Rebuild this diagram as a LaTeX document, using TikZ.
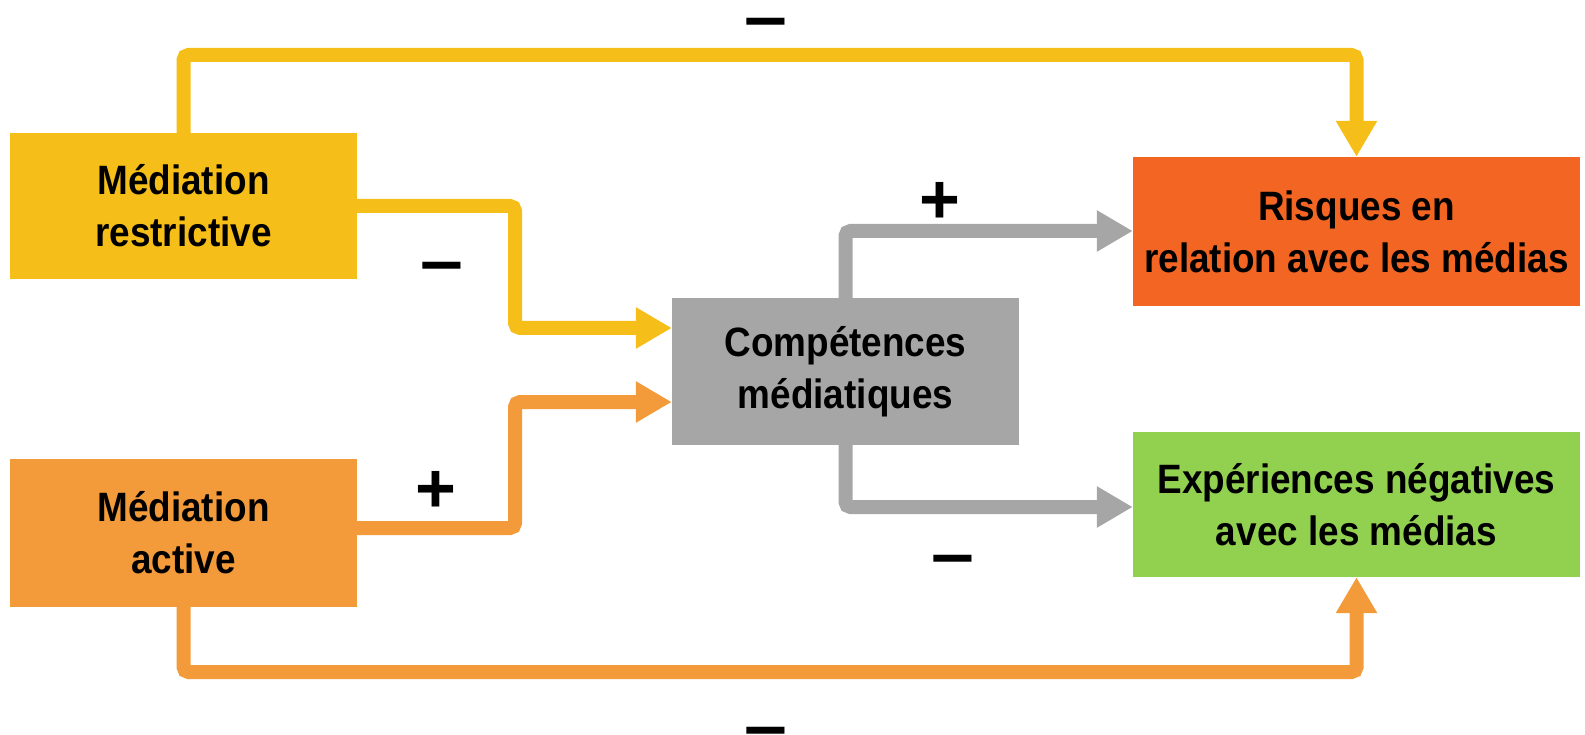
\documentclass[tikz,border=0pt]{standalone}
\usepackage{fontspec}
\setmainfont{Liberation Sans}[FakeStretch=0.9]
\newfontfamily\dashfont{Liberation Sans}[FakeStretch=1.1]
\newfontfamily\plusfont{Liberation Sans}
\usetikzlibrary{arrows.meta}
\definecolor{cyellow}{RGB}{246,190,24}
\definecolor{corange}{RGB}{243,155,59}
\definecolor{cgray}{RGB}{166,166,166}
\definecolor{cred}{RGB}{242,101,34}
\definecolor{cgreen}{RGB}{146,208,80}
\tikzset{
  box/.style={draw=none, inner sep=0pt, align=center, text=black,
    font=\fontsize{41}{52}\selectfont\bfseries},
  conn/.style={line width=14pt, rounded corners=5pt,
    -{Triangle[length=36pt,width=39pt]}},
  minus/.style={inner sep=0pt, text=black, font=\dashfont\fontsize{70}{70}\selectfont\bfseries},
  plus/.style={inner sep=0pt, text=black, font=\plusfont\fontsize{70}{70}\selectfont\bfseries},
}
\begin{document}
\begin{tikzpicture}[x=1pt,y=-1pt]
\useasboundingbox (0,0) rectangle (1585,735);
\node[box, fill=cyellow, minimum width=347pt, minimum height=146pt] (restr) at (183.5,206) {Médiation\\restrictive};
\node[box, fill=corange, minimum width=347pt, minimum height=148pt] (activ) at (183.5,533) {Médiation\\active};
\node[box, fill=cgray, minimum width=347pt, minimum height=147pt] (comp) at (845.5,371.5) {Compétences\\médiatiques};
\node[box, fill=cred, minimum width=447pt, minimum height=149pt] (risk) at (1356.5,231.5) {Risques en\\relation avec les médias};
\node[box, fill=cgreen, minimum width=447pt, minimum height=145pt] (exp) at (1356.5,504.5) {Expériences négatives\\avec les médias};
% bend points
\coordinate (ytop) at (0,55);
\coordinate (ybot) at (0,672);
\coordinate (r1) at (515,206);
\coordinate (r2) at (515,328);
\coordinate (a1) at (515,528);
\coordinate (a2) at (515,402);
\coordinate (g1) at (0,231);
\coordinate (g2) at (0,507);
\draw[conn, draw=cyellow] (restr.north) -- (restr.north |- ytop) -- (risk.north |- ytop) -- (risk.north);
\draw[conn, draw=corange] (activ.south) -- (activ.south |- ybot) -- (exp.south |- ybot) -- (exp.south);
\draw[conn, draw=cyellow] (restr.east |- r1) -- (r1) -- (r2) -- (comp.west |- r2);
\draw[conn, draw=corange] (activ.east |- a1) -- (a1) -- (a2) -- (comp.west |- a2);
\draw[conn, draw=cgray] (comp.north) -- (comp.north |- g1) -- (risk.west |- g1);
\draw[conn, draw=cgray] (comp.south) -- (comp.south |- g2) -- (exp.west |- g2);
% signs
\node[minus] (s1) at (766,29) {–};
\node[minus] (s2) at (442,273) {–};
\node[plus] (s3) at (436,492) {+};
\node[plus] (s4) at (940,203) {+};
\node[minus] (s5) at (953,566) {–};
\node[minus] (s6) at (766,738) {–};
\end{tikzpicture}
\end{document}
